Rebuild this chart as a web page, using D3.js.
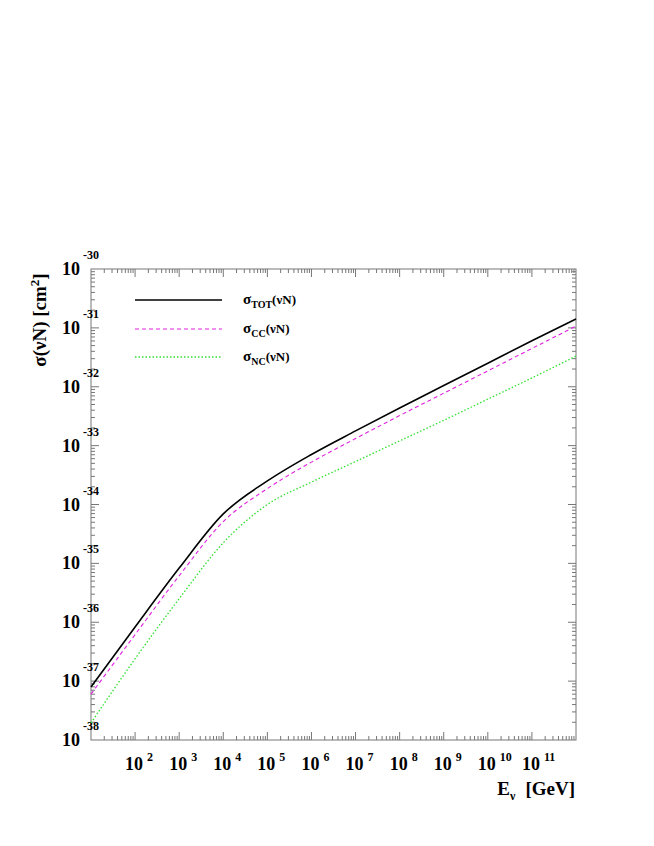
<!DOCTYPE html>
<html><head><meta charset="utf-8">
<script src="https://d3js.org/d3.v7.min.js"></script>
<style>body{margin:0;background:#fff}text{font-family:"Liberation Serif","DejaVu Serif",serif;font-weight:bold}</style>
</head><body><svg id="c" width="654" height="846"></svg>
<script>
const energyExp = [1,2,3,4,5,6,7,8,9,10,11,12];
const logTOT = [-37.10,-36.08,-35.08,-34.16,-33.60,-33.15,-32.75,-32.36,-31.98,-31.60,-31.22,-30.85];
const logCC  = [-37.22,-36.21,-35.21,-34.29,-33.73,-33.28,-32.88,-32.49,-32.11,-31.73,-31.35,-30.97];
const logNC  = [-37.71,-36.62,-35.60,-34.65,-34.00,-33.62,-33.27,-32.92,-32.57,-32.21,-31.85,-31.48];
const xTickExp = [2,3,4,5,6,7,8,9,10,11];
const yTickExp = [-30,-31,-32,-33,-34,-35,-36,-37,-38];
const series = [
 {name:"TOT", vals:logTOT, color:"#000", dash:null, w:1.6},
 {name:"CC", vals:logCC, color:"#e020e0", dash:"4,3", w:1.1},
 {name:"NC", vals:logNC, color:"#30e030", dash:"1.5,2", w:1.3}
];
const L=91,R=576,T=269,B=740;
const svg=d3.select("#c");
const x=d3.scaleLog().domain([1e1,1e12]).range([L,R]);
const y=d3.scaleLog().domain([1e-38,1e-30]).range([B,T]);
const g=svg.append("g");
const ax="#777";
for(let e=1;e<12;e++){for(let m=1;m<10;m++){const v=m*Math.pow(10,e);const px=x(v);const len=m==1?8:4;
 if(e==1&&m==1)continue;
 g.append("line").attr("x1",px).attr("x2",px).attr("y1",B).attr("y2",B-len).attr("stroke",ax);
 g.append("line").attr("x1",px).attr("x2",px).attr("y1",T).attr("y2",T+len).attr("stroke",ax);}}
for(let e=-38;e<-30;e++){for(let m=1;m<10;m++){const v=m*Math.pow(10,e);const py=y(v);const len=m==1?8:4;
 if(e==-38&&m==1)continue;
 g.append("line").attr("y1",py).attr("y2",py).attr("x1",L).attr("x2",L+len).attr("stroke",ax);
 g.append("line").attr("y1",py).attr("y2",py).attr("x1",R).attr("x2",R-len).attr("stroke",ax);}}
g.append("rect").attr("x",L).attr("y",T).attr("width",R-L).attr("height",B-T).attr("fill","none").attr("stroke",ax);
xTickExp.forEach(e=>{const px=x(Math.pow(10,e));
 const t=g.append("text").attr("x",px-10).attr("y",B+30).attr("font-size",18);
 t.append("tspan").text("10");
 t.append("tspan").attr("dx",4).attr("dy",-9).attr("font-size",12).text(e);});
yTickExp.forEach(e=>{const py=y(Math.pow(10,e));
 g.append("text").attr("x",80).attr("y",py+6).attr("text-anchor","end").attr("font-size",18).text("10");
 g.append("text").attr("x",83).attr("y",py-10).attr("font-size",12).text(e);});
const line=d3.line().x((d,i)=>x(Math.pow(10,energyExp[i]))).y(d=>y(Math.pow(10,d))).curve(d3.curveMonotoneX);
series.forEach(s=>{g.append("path").attr("d",line(s.vals)).attr("fill","none").attr("stroke",s.color)
 .attr("stroke-width",s.w).attr("stroke-dasharray",s.dash);});
const ly=[300,329,357];
series.forEach((s,i)=>{g.append("line").attr("x1",135).attr("x2",222).attr("y1",ly[i]).attr("y2",ly[i])
 .attr("stroke",s.color).attr("stroke-width",s.w).attr("stroke-dasharray",s.dash);
 const t=g.append("text").attr("x",243).attr("y",ly[i]+4).attr("font-size",15);
 t.append("tspan").text("σ");
 t.append("tspan").attr("dy",4).attr("font-size",10).text(s.name);
 t.append("tspan").attr("dy",-4).attr("font-size",13).text("(νN)");});
const yt=g.append("text").attr("transform","translate(46,320) rotate(-90)").attr("text-anchor","middle").attr("font-size",19);
yt.append("tspan").text("σ(νN) [cm");yt.append("tspan").attr("dy",-7).attr("font-size",13).text("2");yt.append("tspan").attr("dy",7).text("]");
const xt=g.append("text").attr("x",575).attr("y",795).attr("text-anchor","end").attr("font-size",19).attr("xml:space","preserve");
xt.append("tspan").text("E");xt.append("tspan").attr("dy",5).attr("font-size",12).text("ν");xt.append("tspan").attr("dy",-5).attr("dx",10).text("[GeV]");
</script></body></html>
